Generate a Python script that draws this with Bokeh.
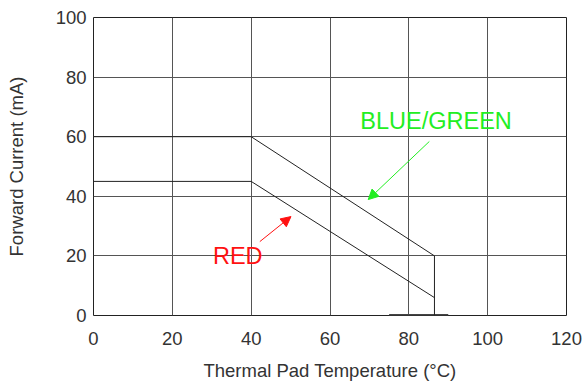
from bokeh.plotting import figure
from bokeh.models import FixedTicker, Arrow, NormalHead, Label
from bokeh.embed import file_html
from bokeh.resources import INLINE

# Data
blue_x = [0, 40, 86.5, 86.5]
blue_y = [60, 60, 20, 0]
red_x = [0, 40, 86.5]
red_y = [45, 45, 6]
base_x = [75, 90]
base_y = [0, 0]
x_ticks = [0, 20, 40, 60, 80, 100, 120]
y_ticks = [0, 20, 40, 60, 80, 100]

FONT = "Liberation Sans"

p = figure(width=587, height=383, x_range=(0, 120), y_range=(0, 100),
           output_backend="svg", toolbar_location=None,
           min_border_left=93, min_border_right=21, min_border_top=17, min_border_bottom=68)
p.background_fill_color = "white"
p.border_fill_color = "white"
p.outline_line_color = "#222222"
p.outline_line_width = 1

for ax in (p.xaxis[0], p.yaxis[0]):
    ax.axis_line_color = None
    ax.major_tick_line_color = None
    ax.minor_tick_line_color = None
    ax.major_tick_out = 0
    ax.major_tick_in = 0
    ax.major_label_text_font = FONT
    ax.major_label_text_font_size = "18.5px"
    ax.major_label_text_color = "#333333"
    ax.axis_label_text_font = FONT
    ax.axis_label_text_font_size = "18.5px"
    ax.axis_label_text_font_style = "normal"
    ax.axis_label_text_color = "#333333"

p.xaxis.ticker = FixedTicker(ticks=x_ticks)
p.yaxis.ticker = FixedTicker(ticks=y_ticks)
p.xaxis.axis_label = "Thermal Pad Temperature (°C)"
p.yaxis.axis_label = "Forward Current (mA)"
p.xaxis.major_label_standoff = 16
p.xaxis.axis_label_standoff = 12
p.yaxis.major_label_standoff = 7
p.yaxis.axis_label_standoff = 26

p.xgrid.ticker = FixedTicker(ticks=x_ticks)
p.ygrid.ticker = FixedTicker(ticks=y_ticks)
for g in (p.xgrid[0], p.ygrid[0]):
    g.grid_line_color = "#555555"
    g.grid_line_width = 1
    g.grid_line_alpha = 1

p.line(base_x, base_y, line_color="#444444", line_width=3)
p.line(blue_x, blue_y, line_color="#222222", line_width=1)
p.line(red_x, red_y, line_color="#222222", line_width=1)

green = "#22ee22"
red = "#ff1111"
p.add_layout(Arrow(end=NormalHead(size=10, fill_color=green, line_color=green),
                   x_start=85.2, y_start=58.4, x_end=69.7, y_end=38.9,
                   line_color=green, line_width=1))
p.add_layout(Arrow(end=NormalHead(size=10, fill_color=red, line_color=red),
                   x_start=42.2, y_start=24.8, x_end=50.1, y_end=33.2,
                   line_color=red, line_width=1))

p.add_layout(Label(x=67.7, y=65.4, text="BLUE/GREEN", text_color=green,
                   text_font=FONT, text_font_size="23.5px", text_baseline="middle"))
p.add_layout(Label(x=30.3, y=19.8, text="RED", text_color=red,
                   text_font=FONT, text_font_size="23.5px", text_baseline="middle"))

open("out.html", "w").write(file_html(p, INLINE))
